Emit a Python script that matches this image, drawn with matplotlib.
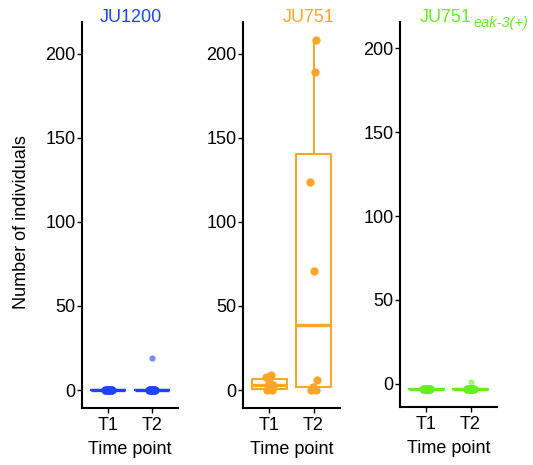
import matplotlib
matplotlib.use("Agg")
import matplotlib.pyplot as plt
import numpy as np

plt.rcParams['font.family'] = ['Liberation Sans', 'DejaVu Sans']

# ---- data ----
strains = ["JU1200", "JU751", "JU751"]
subscripts = ["", "", "eak-3(+)"]
time_points = ["T1", "T2"]
colors = ["#1f43fb", "#ffa52c", "#66ee22"]
light_colors = ["#7091ff", "#ffc070", "#9ef57a"]

ju1200_t1 = [0, 0, 0, 0, 0, 0, 0, 0]
ju1200_t2 = [0, 0, 0, 0, 0, 0, 0, 19]
ju751_t1 = [0, 0, 1, 3, 5, 8, 9]
ju751_t2 = [0, 0, 2, 6, 71, 124, 189, 208]
eak_t1 = [-3, -3, -3, -3, -3, -3, -3, -3]
eak_t2 = [-3, -3, -3, -3, -3, -3, -3, 1]

panels = [[ju1200_t1, ju1200_t2], [ju751_t1, ju751_t2], [eak_t1, eak_t2]]
jitter = [-0.05, 0.06, -0.02, 0.08, 0.0, -0.07, 0.03, 0.05]

W, H = 533, 465
fig = plt.figure(figsize=(W / 100, H / 100), dpi=100)

# axes boxes in pixels: left, top, right, bottom
boxes = [(82, 22, 178, 408), (243, 22, 340, 408), (400, 22, 497, 407)]
ylims = [(-10.7, 219), (-10.7, 219), (-13.7, 215.5)]
title_x = [100, 283, 420]

for i, (panel, box) in enumerate(zip(panels, boxes)):
    l, t, r, b = box
    ax = fig.add_axes([l / W, 1 - b / H, (r - l) / W, (b - t) / H])
    c = colors[i]
    lc = light_colors[i]
    ax.boxplot(panel, positions=[1, 2], widths=0.78, whis=1.5,
               showcaps=False, patch_artist=False,
               boxprops=dict(color=c, linewidth=1.5),
               whiskerprops=dict(color=c, linewidth=1.5),
               medianprops=dict(color=c, linewidth=2.4),
               flierprops=dict(marker='o', markersize=4.5,
                               markerfacecolor=lc, markeredgecolor='none'))
    for k, vals in enumerate(panel):
        v = np.array(vals, dtype=float)
        q1, q3 = np.percentile(v, [25, 75])
        iqr = q3 - q1
        inside = (v >= q1 - 1.5 * iqr) & (v <= q3 + 1.5 * iqr)
        xs = (k + 1) + np.array(jitter[:len(v)])
        ax.plot(xs[inside], v[inside], 'o', color=c, markersize=6,
                markeredgecolor='none', zorder=3)
    ax.set_xlim(0.4, 2.6)
    ax.set_ylim(*ylims[i])
    ax.set_yticks([0, 50, 100, 150, 200])
    ax.set_xticks([1, 2])
    ax.set_xticklabels(time_points)
    ax.spines['top'].set_visible(False)
    ax.spines['right'].set_visible(False)
    for s in ['left', 'bottom']:
        ax.spines[s].set_linewidth(1.5)
    ax.tick_params(axis='both', labelsize=13, width=1.0, length=3.5,
                   colors='black')
    ax.tick_params(axis='y', pad=1)
    ax.tick_params(axis='x', pad=3)
    ax.set_xlabel("Time point", fontsize=13, labelpad=5)
    fig.text(title_x[i] / W, 1 - 22 / H, strains[i], color=c,
             fontsize=13, ha='left', va='baseline')
    if subscripts[i]:
        fig.text(473 / W, 1 - 27 / H, subscripts[i], color=c,
                 fontsize=10.5, style='italic', ha='left', va='baseline')

fig.text(22 / W, 1 - 222 / H, "Number of individuals", rotation=90,
         fontsize=13, ha='center', va='center')

fig.savefig("out.png", dpi=100)
